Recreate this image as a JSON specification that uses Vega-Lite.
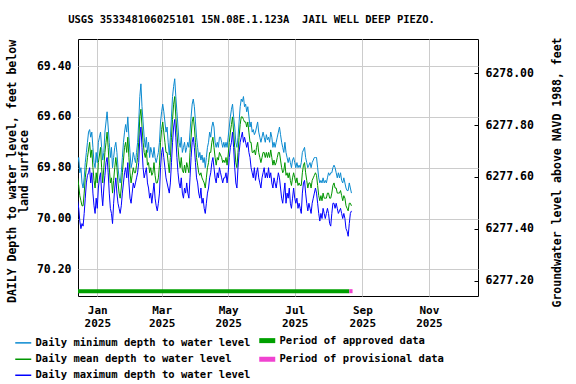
{
"$schema": "https://vega.github.io/schema/vega-lite/v6.json",
"width": 400, "height": 257,
"autosize": "none",
"padding": {"left": 78, "top": 39, "right": 98, "bottom": 88},
"background": "white",
"config": {"view": {"stroke": "black", "strokeWidth": 1}, "font": "DejaVu Sans Mono"},
"title": {"text": "USGS 353348106025101 15N.08E.1.123A\u00a0 JAIL WELL DEEP PIEZO.", "anchor": "middle", "frame": "group", "dx": -26.5, "offset": 11, "font": "DejaVu Sans Mono", "fontSize": 10.5, "fontWeight": "bold", "color": "black"},
"datasets": {
"w": [
{"d":"2024-12-14","n":69.78,"m":69.84,"x":69.93},
{"d":"2024-12-15","n":69.76,"m":69.87,"x":69.96},
{"d":"2024-12-16","n":69.82,"m":69.91,"x":70.01},
{"d":"2024-12-17","n":69.80,"m":69.93,"x":70.04},
{"d":"2024-12-18","n":69.86,"m":69.95,"x":70.02},
{"d":"2024-12-19","n":69.88,"m":69.95,"x":70.03},
{"d":"2024-12-20","n":69.84,"m":69.90,"x":69.98},
{"d":"2024-12-21","n":69.78,"m":69.84,"x":69.92},
{"d":"2024-12-22","n":69.74,"m":69.80,"x":69.86},
{"d":"2024-12-23","n":69.70,"m":69.76,"x":69.83},
{"d":"2024-12-24","n":69.66,"m":69.73,"x":69.82},
{"d":"2024-12-25","n":69.65,"m":69.70,"x":69.80},
{"d":"2024-12-26","n":69.68,"m":69.76,"x":69.86},
{"d":"2024-12-27","n":69.66,"m":69.73,"x":69.82},
{"d":"2024-12-28","n":69.72,"m":69.80,"x":69.90},
{"d":"2024-12-29","n":69.78,"m":69.85,"x":69.95},
{"d":"2024-12-30","n":69.80,"m":69.88,"x":69.98},
{"d":"2024-12-31","n":69.74,"m":69.82,"x":69.92},
{"d":"2025-01-01","n":69.78,"m":69.86,"x":69.96},
{"d":"2025-01-02","n":69.70,"m":69.78,"x":69.88},
{"d":"2025-01-03","n":69.68,"m":69.75,"x":69.84},
{"d":"2025-01-04","n":69.66,"m":69.72,"x":69.82},
{"d":"2025-01-05","n":69.72,"m":69.80,"x":69.90},
{"d":"2025-01-06","n":69.77,"m":69.86,"x":69.95},
{"d":"2025-01-07","n":69.74,"m":69.80,"x":69.88},
{"d":"2025-01-08","n":69.66,"m":69.74,"x":69.83},
{"d":"2025-01-09","n":69.62,"m":69.70,"x":69.78},
{"d":"2025-01-10","n":69.58,"m":69.66,"x":69.76},
{"d":"2025-01-11","n":69.64,"m":69.72,"x":69.82},
{"d":"2025-01-12","n":69.70,"m":69.80,"x":69.90},
{"d":"2025-01-13","n":69.76,"m":69.86,"x":69.96},
{"d":"2025-01-14","n":69.72,"m":69.84,"x":69.98},
{"d":"2025-01-15","n":69.80,"m":69.90,"x":70.02},
{"d":"2025-01-16","n":69.76,"m":69.85,"x":69.94},
{"d":"2025-01-17","n":69.72,"m":69.80,"x":69.88},
{"d":"2025-01-18","n":69.70,"m":69.76,"x":69.84},
{"d":"2025-01-19","n":69.74,"m":69.80,"x":69.90},
{"d":"2025-01-20","n":69.80,"m":69.86,"x":69.94},
{"d":"2025-01-21","n":69.84,"m":69.90,"x":69.96},
{"d":"2025-01-22","n":69.86,"m":69.92,"x":69.98},
{"d":"2025-01-23","n":69.82,"m":69.88,"x":69.95},
{"d":"2025-01-24","n":69.76,"m":69.82,"x":69.90},
{"d":"2025-01-25","n":69.70,"m":69.77,"x":69.86},
{"d":"2025-01-26","n":69.66,"m":69.72,"x":69.82},
{"d":"2025-01-27","n":69.63,"m":69.70,"x":69.80},
{"d":"2025-01-28","n":69.66,"m":69.74,"x":69.84},
{"d":"2025-01-29","n":69.60,"m":69.68,"x":69.78},
{"d":"2025-01-30","n":69.68,"m":69.76,"x":69.86},
{"d":"2025-01-31","n":69.74,"m":69.82,"x":69.92},
{"d":"2025-02-01","n":69.80,"m":69.86,"x":69.94},
{"d":"2025-02-02","n":69.78,"m":69.83,"x":69.90},
{"d":"2025-02-03","n":69.74,"m":69.80,"x":69.86},
{"d":"2025-02-04","n":69.76,"m":69.82,"x":69.88},
{"d":"2025-02-05","n":69.78,"m":69.82,"x":69.86},
{"d":"2025-02-06","n":69.74,"m":69.79,"x":69.84},
{"d":"2025-02-07","n":69.70,"m":69.76,"x":69.82},
{"d":"2025-02-08","n":69.62,"m":69.70,"x":69.78},
{"d":"2025-02-09","n":69.52,"m":69.60,"x":69.68},
{"d":"2025-02-10","n":69.47,"m":69.57,"x":69.64},
{"d":"2025-02-11","n":69.56,"m":69.64,"x":69.72},
{"d":"2025-02-12","n":69.62,"m":69.70,"x":69.80},
{"d":"2025-02-13","n":69.68,"m":69.74,"x":69.84},
{"d":"2025-02-14","n":69.72,"m":69.76,"x":69.82},
{"d":"2025-02-15","n":69.68,"m":69.73,"x":69.80},
{"d":"2025-02-16","n":69.74,"m":69.79,"x":69.86},
{"d":"2025-02-17","n":69.70,"m":69.78,"x":69.88},
{"d":"2025-02-18","n":69.76,"m":69.82,"x":69.92},
{"d":"2025-02-19","n":69.72,"m":69.80,"x":69.90},
{"d":"2025-02-20","n":69.74,"m":69.83,"x":69.94},
{"d":"2025-02-21","n":69.76,"m":69.82,"x":69.90},
{"d":"2025-02-22","n":69.72,"m":69.78,"x":69.86},
{"d":"2025-02-23","n":69.76,"m":69.83,"x":69.92},
{"d":"2025-02-24","n":69.78,"m":69.86,"x":69.95},
{"d":"2025-02-25","n":69.76,"m":69.86,"x":69.97},
{"d":"2025-02-26","n":69.74,"m":69.84,"x":69.94},
{"d":"2025-02-27","n":69.70,"m":69.79,"x":69.90},
{"d":"2025-02-28","n":69.62,"m":69.70,"x":69.80},
{"d":"2025-03-01","n":69.58,"m":69.65,"x":69.74},
{"d":"2025-03-02","n":69.55,"m":69.62,"x":69.72},
{"d":"2025-03-03","n":69.58,"m":69.66,"x":69.76},
{"d":"2025-03-04","n":69.62,"m":69.70,"x":69.80},
{"d":"2025-03-05","n":69.66,"m":69.74,"x":69.84},
{"d":"2025-03-06","n":69.64,"m":69.74,"x":69.86},
{"d":"2025-03-07","n":69.70,"m":69.78,"x":69.88},
{"d":"2025-03-08","n":69.75,"m":69.82,"x":69.90},
{"d":"2025-03-09","n":69.68,"m":69.76,"x":69.86},
{"d":"2025-03-10","n":69.60,"m":69.68,"x":69.78},
{"d":"2025-03-11","n":69.52,"m":69.61,"x":69.70},
{"d":"2025-03-12","n":69.48,"m":69.55,"x":69.64},
{"d":"2025-03-13","n":69.45,"m":69.52,"x":69.61},
{"d":"2025-03-14","n":69.52,"m":69.60,"x":69.68},
{"d":"2025-03-15","n":69.58,"m":69.66,"x":69.76},
{"d":"2025-03-16","n":69.64,"m":69.72,"x":69.82},
{"d":"2025-03-17","n":69.70,"m":69.77,"x":69.86},
{"d":"2025-03-18","n":69.72,"m":69.80,"x":69.88},
{"d":"2025-03-19","n":69.68,"m":69.76,"x":69.84},
{"d":"2025-03-20","n":69.74,"m":69.81,"x":69.90},
{"d":"2025-03-21","n":69.72,"m":69.82,"x":69.92},
{"d":"2025-03-22","n":69.70,"m":69.79,"x":69.88},
{"d":"2025-03-23","n":69.74,"m":69.82,"x":69.90},
{"d":"2025-03-24","n":69.72,"m":69.78,"x":69.86},
{"d":"2025-03-25","n":69.70,"m":69.80,"x":69.90},
{"d":"2025-03-26","n":69.72,"m":69.82,"x":69.92},
{"d":"2025-03-27","n":69.66,"m":69.74,"x":69.84},
{"d":"2025-03-28","n":69.60,"m":69.68,"x":69.76},
{"d":"2025-03-29","n":69.55,"m":69.62,"x":69.70},
{"d":"2025-03-30","n":69.53,"m":69.60,"x":69.68},
{"d":"2025-03-31","n":69.56,"m":69.64,"x":69.72},
{"d":"2025-04-01","n":69.62,"m":69.70,"x":69.78},
{"d":"2025-04-02","n":69.68,"m":69.76,"x":69.84},
{"d":"2025-04-03","n":69.72,"m":69.79,"x":69.86},
{"d":"2025-04-04","n":69.76,"m":69.82,"x":69.90},
{"d":"2025-04-05","n":69.74,"m":69.83,"x":69.92},
{"d":"2025-04-06","n":69.77,"m":69.82,"x":69.88},
{"d":"2025-04-07","n":69.75,"m":69.84,"x":69.94},
{"d":"2025-04-08","n":69.78,"m":69.85,"x":69.92},
{"d":"2025-04-09","n":69.76,"m":69.86,"x":69.96},
{"d":"2025-04-10","n":69.80,"m":69.88,"x":69.98},
{"d":"2025-04-11","n":69.76,"m":69.84,"x":69.94},
{"d":"2025-04-12","n":69.72,"m":69.80,"x":69.90},
{"d":"2025-04-13","n":69.70,"m":69.78,"x":69.88},
{"d":"2025-04-14","n":69.66,"m":69.74,"x":69.84},
{"d":"2025-04-15","n":69.68,"m":69.74,"x":69.82},
{"d":"2025-04-16","n":69.64,"m":69.70,"x":69.78},
{"d":"2025-04-17","n":69.62,"m":69.68,"x":69.76},
{"d":"2025-04-18","n":69.64,"m":69.72,"x":69.80},
{"d":"2025-04-19","n":69.70,"m":69.76,"x":69.84},
{"d":"2025-04-20","n":69.72,"m":69.79,"x":69.86},
{"d":"2025-04-21","n":69.70,"m":69.76,"x":69.82},
{"d":"2025-04-22","n":69.72,"m":69.77,"x":69.84},
{"d":"2025-04-23","n":69.68,"m":69.74,"x":69.80},
{"d":"2025-04-24","n":69.68,"m":69.75,"x":69.82},
{"d":"2025-04-25","n":69.70,"m":69.76,"x":69.84},
{"d":"2025-04-26","n":69.72,"m":69.78,"x":69.86},
{"d":"2025-04-27","n":69.70,"m":69.77,"x":69.84},
{"d":"2025-04-28","n":69.72,"m":69.78,"x":69.84},
{"d":"2025-04-29","n":69.70,"m":69.76,"x":69.82},
{"d":"2025-04-30","n":69.72,"m":69.79,"x":69.86},
{"d":"2025-05-01","n":69.68,"m":69.75,"x":69.82},
{"d":"2025-05-02","n":69.64,"m":69.70,"x":69.76},
{"d":"2025-05-03","n":69.60,"m":69.66,"x":69.72},
{"d":"2025-05-04","n":69.57,"m":69.63,"x":69.70},
{"d":"2025-05-05","n":69.55,"m":69.60,"x":69.66},
{"d":"2025-05-06","n":69.60,"m":69.66,"x":69.72},
{"d":"2025-05-07","n":69.64,"m":69.72,"x":69.80},
{"d":"2025-05-08","n":69.70,"m":69.78,"x":69.86},
{"d":"2025-05-09","n":69.72,"m":69.80,"x":69.88},
{"d":"2025-05-10","n":69.68,"m":69.74,"x":69.80},
{"d":"2025-05-11","n":69.62,"m":69.68,"x":69.74},
{"d":"2025-05-12","n":69.56,"m":69.63,"x":69.70},
{"d":"2025-05-13","n":69.53,"m":69.60,"x":69.68},
{"d":"2025-05-14","n":69.54,"m":69.60,"x":69.66},
{"d":"2025-05-15","n":69.52,"m":69.61,"x":69.70},
{"d":"2025-05-16","n":69.56,"m":69.62,"x":69.68},
{"d":"2025-05-17","n":69.55,"m":69.62,"x":69.70},
{"d":"2025-05-18","n":69.58,"m":69.64,"x":69.72},
{"d":"2025-05-19","n":69.56,"m":69.62,"x":69.70},
{"d":"2025-05-20","n":69.60,"m":69.66,"x":69.74},
{"d":"2025-05-21","n":69.64,"m":69.70,"x":69.76},
{"d":"2025-05-22","n":69.62,"m":69.70,"x":69.80},
{"d":"2025-05-23","n":69.66,"m":69.74,"x":69.82},
{"d":"2025-05-24","n":69.65,"m":69.74,"x":69.84},
{"d":"2025-05-25","n":69.67,"m":69.73,"x":69.80},
{"d":"2025-05-26","n":69.66,"m":69.75,"x":69.85},
{"d":"2025-05-27","n":69.64,"m":69.72,"x":69.82},
{"d":"2025-05-28","n":69.62,"m":69.70,"x":69.80},
{"d":"2025-05-29","n":69.66,"m":69.74,"x":69.84},
{"d":"2025-05-30","n":69.68,"m":69.76,"x":69.86},
{"d":"2025-05-31","n":69.70,"m":69.78,"x":69.88},
{"d":"2025-06-01","n":69.68,"m":69.76,"x":69.84},
{"d":"2025-06-02","n":69.66,"m":69.74,"x":69.82},
{"d":"2025-06-03","n":69.68,"m":69.74,"x":69.80},
{"d":"2025-06-04","n":69.70,"m":69.76,"x":69.84},
{"d":"2025-06-05","n":69.67,"m":69.74,"x":69.82},
{"d":"2025-06-06","n":69.69,"m":69.76,"x":69.84},
{"d":"2025-06-07","n":69.68,"m":69.74,"x":69.80},
{"d":"2025-06-08","n":69.70,"m":69.76,"x":69.84},
{"d":"2025-06-09","n":69.66,"m":69.73,"x":69.82},
{"d":"2025-06-10","n":69.68,"m":69.76,"x":69.86},
{"d":"2025-06-11","n":69.72,"m":69.79,"x":69.88},
{"d":"2025-06-12","n":69.70,"m":69.77,"x":69.84},
{"d":"2025-06-13","n":69.72,"m":69.79,"x":69.86},
{"d":"2025-06-14","n":69.70,"m":69.78,"x":69.88},
{"d":"2025-06-15","n":69.68,"m":69.76,"x":69.85},
{"d":"2025-06-16","n":69.66,"m":69.74,"x":69.82},
{"d":"2025-06-17","n":69.64,"m":69.74,"x":69.84},
{"d":"2025-06-18","n":69.67,"m":69.77,"x":69.88},
{"d":"2025-06-19","n":69.70,"m":69.80,"x":69.92},
{"d":"2025-06-20","n":69.72,"m":69.82,"x":69.94},
{"d":"2025-06-21","n":69.74,"m":69.81,"x":69.90},
{"d":"2025-06-22","n":69.70,"m":69.78,"x":69.86},
{"d":"2025-06-23","n":69.74,"m":69.83,"x":69.94},
{"d":"2025-06-24","n":69.76,"m":69.82,"x":69.90},
{"d":"2025-06-25","n":69.78,"m":69.84,"x":69.92},
{"d":"2025-06-26","n":69.76,"m":69.82,"x":69.88},
{"d":"2025-06-27","n":69.78,"m":69.85,"x":69.94},
{"d":"2025-06-28","n":69.80,"m":69.87,"x":69.96},
{"d":"2025-06-29","n":69.77,"m":69.84,"x":69.92},
{"d":"2025-06-30","n":69.76,"m":69.82,"x":69.88},
{"d":"2025-07-01","n":69.78,"m":69.84,"x":69.92},
{"d":"2025-07-02","n":69.80,"m":69.86,"x":69.94},
{"d":"2025-07-03","n":69.78,"m":69.84,"x":69.92},
{"d":"2025-07-04","n":69.80,"m":69.87,"x":69.96},
{"d":"2025-07-05","n":69.79,"m":69.86,"x":69.94},
{"d":"2025-07-06","n":69.80,"m":69.87,"x":69.96},
{"d":"2025-07-07","n":69.78,"m":69.87,"x":69.98},
{"d":"2025-07-08","n":69.74,"m":69.82,"x":69.90},
{"d":"2025-07-09","n":69.73,"m":69.79,"x":69.86},
{"d":"2025-07-10","n":69.72,"m":69.78,"x":69.85},
{"d":"2025-07-11","n":69.76,"m":69.82,"x":69.90},
{"d":"2025-07-12","n":69.78,"m":69.85,"x":69.94},
{"d":"2025-07-13","n":69.80,"m":69.88,"x":69.97},
{"d":"2025-07-14","n":69.79,"m":69.86,"x":69.94},
{"d":"2025-07-15","n":69.78,"m":69.86,"x":69.96},
{"d":"2025-07-16","n":69.80,"m":69.88,"x":69.98},
{"d":"2025-07-17","n":69.78,"m":69.85,"x":69.94},
{"d":"2025-07-18","n":69.77,"m":69.84,"x":69.92},
{"d":"2025-07-19","n":69.76,"m":69.83,"x":69.90},
{"d":"2025-07-20","n":69.76,"m":69.82,"x":69.88},
{"d":"2025-07-21","n":69.76,"m":69.83,"x":69.90},
{"d":"2025-07-22","n":69.80,"m":69.87,"x":69.94},
{"d":"2025-07-23","n":69.84,"m":69.91,"x":69.98},
{"d":"2025-07-24","n":69.86,"m":69.93,"x":70.01},
{"d":"2025-07-25","n":69.85,"m":69.91,"x":69.98},
{"d":"2025-07-26","n":69.86,"m":69.93,"x":70.00},
{"d":"2025-07-27","n":69.84,"m":69.90,"x":69.96},
{"d":"2025-07-28","n":69.86,"m":69.92,"x":69.98},
{"d":"2025-07-29","n":69.85,"m":69.92,"x":70.00},
{"d":"2025-07-30","n":69.86,"m":69.92,"x":69.98},
{"d":"2025-07-31","n":69.84,"m":69.90,"x":69.96},
{"d":"2025-08-01","n":69.82,"m":69.90,"x":69.98},
{"d":"2025-08-02","n":69.83,"m":69.92,"x":70.02},
{"d":"2025-08-03","n":69.82,"m":69.92,"x":70.03},
{"d":"2025-08-04","n":69.82,"m":69.90,"x":69.98},
{"d":"2025-08-05","n":69.80,"m":69.87,"x":69.94},
{"d":"2025-08-06","n":69.79,"m":69.86,"x":69.94},
{"d":"2025-08-07","n":69.80,"m":69.88,"x":69.96},
{"d":"2025-08-08","n":69.82,"m":69.88,"x":69.94},
{"d":"2025-08-09","n":69.84,"m":69.90,"x":69.96},
{"d":"2025-08-10","n":69.82,"m":69.90,"x":69.98},
{"d":"2025-08-11","n":69.84,"m":69.90,"x":69.97},
{"d":"2025-08-12","n":69.82,"m":69.89,"x":69.96},
{"d":"2025-08-13","n":69.85,"m":69.91,"x":69.98},
{"d":"2025-08-14","n":69.86,"m":69.93,"x":70.00},
{"d":"2025-08-15","n":69.84,"m":69.91,"x":69.98},
{"d":"2025-08-16","n":69.86,"m":69.92,"x":70.00},
{"d":"2025-08-17","n":69.88,"m":69.95,"x":70.04},
{"d":"2025-08-18","n":69.89,"m":69.96,"x":70.05},
{"d":"2025-08-19","n":69.89,"m":69.97,"x":70.07},
{"d":"2025-08-20","n":69.86,"m":69.94,"x":70.02},
{"d":"2025-08-21","n":69.88,"m":69.94,"x":69.98},
{"d":"2025-08-22","n":69.90,"m":69.95,"x":69.97}
],
"per": [
{"key": "a", "s": "2024-12-13", "e": "2025-08-20"},
{"key": "p", "s": "2025-08-20", "e": "2025-08-23"}
]
},
"layer": [
{
"layer": [
{
"data": {"name": "w"},
"transform": [{"fold": ["n", "m", "x"]}],
"mark": {"type": "line", "strokeWidth": 1, "clip": true},
"encoding": {
"x": {"field": "d", "type": "temporal",
"scale": {"type": "utc", "domain": [{"year": 2024, "month": 12, "date": 14, "hours": 8, "utc": true}, {"year": 2025, "month": 12, "date": 16, "utc": true}]},
"axis": {"values": [{"year": 2025, "month": 1, "date": 1, "utc": true}, {"year": 2025, "month": 3, "date": 1, "utc": true}, {"year": 2025, "month": 5, "date": 1, "utc": true}, {"year": 2025, "month": 7, "date": 1, "utc": true}, {"year": 2025, "month": 9, "date": 1, "utc": true}, {"year": 2025, "month": 11, "date": 1, "utc": true}],
"labelExpr": "[utcFormat(datum.value, '%b'), utcFormat(datum.value, '%Y')]",
"grid": true, "gridColor": "#cccccc", "ticks": false, "domain": false,
"labelFont": "DejaVu Sans Mono", "labelFontSize": 11, "labelFontWeight": "bold", "labelColor": "black",
"labelPadding": 8, "labelLineHeight": 13, "title": null}},
"y": {"field": "value", "type": "quantitative",
"scale": {"domain": [69.2935, 70.305], "reverse": true, "zero": false, "nice": false},
"axis": {"values": [69.4, 69.6, 69.8, 70.0, 70.2], "format": ".2f", "grid": true, "gridColor": "#cccccc", "ticks": false, "domain": false,
"labelFont": "DejaVu Sans Mono", "labelFontSize": 11.5, "labelFontWeight": "bold", "labelColor": "black", "labelPadding": 7,
"title": ["DAILY Depth to water level, feet below", "land surface"],
"titleFont": "DejaVu Sans Mono", "titleFontSize": 11.5, "titleFontWeight": "bold", "titleColor": "black",
"titleX": -72, "titleY": 132, "titleAngle": 270, "titleAlign": "center", "titleBaseline": "top", "titleLineHeight": 12.5}},
"color": {"field": "key", "type": "nominal",
"scale": {"domain": ["n", "m", "x", "a", "p"], "range": ["#0a8ad0", "#009600", "#0000ff", "#00a000", "#f043d0"]},
"legend": {"orient": "none", "legendX": -60, "legendY": 296, "columns": 2, "title": null,
"symbolType": "stroke", "symbolSize": 256, "symbolStrokeWidth": 1.5,
"labelFont": "DejaVu Sans Mono", "labelFontSize": 10.5, "labelFontWeight": "bold", "labelColor": "black", "labelLimit": 400,
"labelOffset": 7, "rowPadding": -2, "columnPadding": -2,
"labelExpr": "datum.label == 'n' ? 'Daily minimum depth to water level' : datum.label == 'm' ? 'Daily mean depth to water level' : datum.label == 'x' ? 'Daily maximum depth to water level' : datum.label == 'a' ? 'Period of approved data' : 'Period of provisional data'",
"encode": {"symbols": {"update": {"strokeWidth": {"signal": "datum.value == 'a' || datum.value == 'p' ? 5 : 1.5"}}}}}}
}
},
{
"data": {"name": "per"},
"mark": {"type": "rule", "strokeWidth": 4, "clip": true},
"encoding": {
"x": {"field": "s", "type": "temporal"},
"x2": {"field": "e"},
"y": {"datum": 70.286, "type": "quantitative"},
"color": {"field": "key", "type": "nominal"}
}
}
]
},
{
"data": {"values": [{}]},
"mark": {"type": "rule", "opacity": 0},
"encoding": {
"y": {"datum": 6277.6, "type": "quantitative",
"scale": {"domain": [6277.142, 6278.131], "zero": false, "nice": false},
"axis": {"orient": "right", "values": [6277.2, 6277.4, 6277.6, 6277.8, 6278.0], "format": ".2f", "grid": false, "domain": false,
"ticks": true, "tickSize": -4, "tickColor": "black", "labelPadding": 11,
"labelFont": "DejaVu Sans Mono", "labelFontSize": 11.5, "labelFontWeight": "bold", "labelColor": "black",
"title": "Groundwater level above NAVD 1988, feet",
"titleFont": "DejaVu Sans Mono", "titleFontSize": 11.5, "titleFontWeight": "bold", "titleColor": "black",
"titleX": 79, "titleY": 133, "titleAngle": 270, "titleAlign": "center", "titleBaseline": "middle"}}
}
}
],
"resolve": {"scale": {"y": "independent"}, "axis": {"y": "independent"}}
}
